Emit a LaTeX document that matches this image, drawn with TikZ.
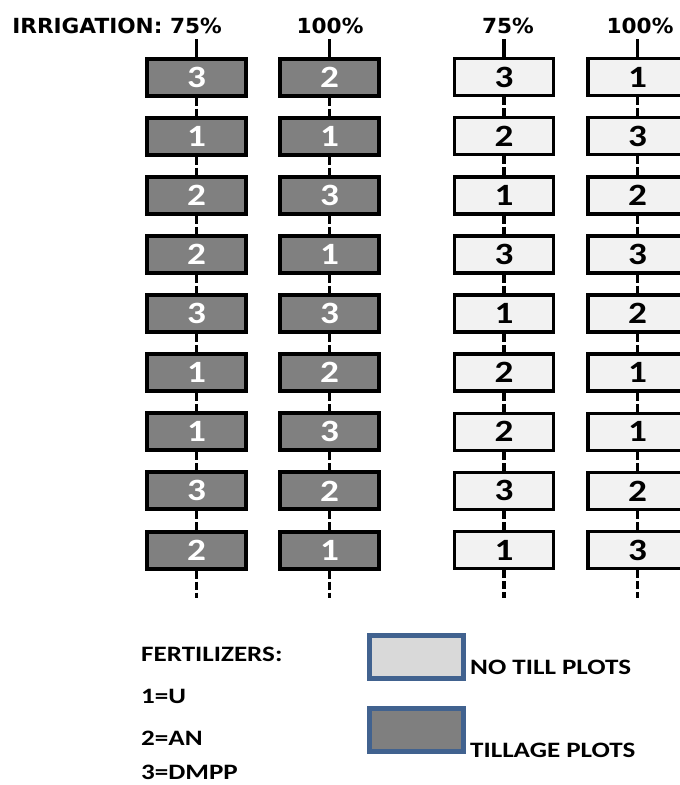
\documentclass[tikz,border=0pt]{standalone}
\usepackage{fontspec}
\setmainfont{Carlito}
\newfontfamily\plotfont[FakeStretch=1.2]{Carlito}
\newfontfamily\legfont[FakeStretch=1.23]{Carlito}
\newfontfamily\headfont[FakeStretch=1.04]{DejaVu Sans}
\definecolor{tillgray}{HTML}{808080}
\definecolor{notillfill}{HTML}{F2F2F2}
\definecolor{legblue}{HTML}{41628F}
\definecolor{leglight}{HTML}{D9D9D9}
\definecolor{legdark}{HTML}{7F7F7F}
\tikzset{
  plotbox/.style={draw=black, minimum width=99pt, minimum height=37pt, inner sep=0pt,
    font=\plotfont\bfseries\fontsize{31}{31}\selectfont},
  tillbox/.style={plotbox, fill=tillgray, line width=4pt, text=white},
  notillbox/.style={plotbox, fill=notillfill, line width=3.5pt, text=black},
  conn/.style={line width=3.5pt, dash pattern=on 8pt off 3pt},
  topconn/.style={line width=3.5pt},
  headtxt/.style={inner sep=0pt, font=\headfont\bfseries\fontsize{20.8}{24}\selectfont},
  legtxt/.style={inner sep=0pt, anchor=base west, font=\legfont\bfseries\fontsize{22}{26}\selectfont},
  legbox/.style={draw=legblue, line width=5pt, minimum width=94pt, minimum height=43pt, inner sep=0pt}
}
\begin{document}
\begin{tikzpicture}[x=1pt,y=-1pt]
\useasboundingbox (0,0) rectangle (680,785);
\clip (0,0) rectangle (680,785);
% headers
\node[headtxt, anchor=base east] (h1t) at (222,33) {IRRIGATION: 75\%};
\node[headtxt, anchor=base] (h2t) at (330,33) {100\%};
\node[headtxt, anchor=base] (h3t) at (508,33) {75\%};
\node[headtxt, anchor=base] (h4t) at (640,33) {100\%};
% columns
\foreach \c/\x/\st/\vals in {1/196.5/tillbox/{3,1,2,2,3,1,1,3,2},
                              2/329.5/tillbox/{2,1,3,1,3,2,3,2,1},
                              3/504/notillbox/{3,2,1,3,1,2,2,3,1},
                              4/637.5/notillbox/{1,3,2,3,2,1,1,2,3}}{
  \coordinate (top\c) at (\x,39);
  \coordinate (bot\c) at (\x,598);
  \foreach \v [count=\r] in \vals {
    \node[\st] (b\c-\r) at (\x,{77+59.125*(\r-1)}) {\v};
  }
  \draw[topconn] (top\c) -- (b\c-1.north);
  \foreach \r [evaluate=\r as \n using int(\r+1)] in {1,...,8} {
    \draw[conn] (b\c-\r.south) -- (b\c-\n.north);
  }
  \draw[conn] (b\c-9.south) -- (bot\c);
}
% legend
\node[legtxt] (fert) at (141,661) {FERTILIZERS:};
\node[legtxt] (f1) at (141,703) {1=U};
\node[legtxt] (f2) at (141,745) {2=AN};
\node[legtxt] (f3) at (141,779.5) {3=DMPP};
\node[legbox, fill=leglight] (lb1) at (416.5,657) {};
\node[legbox, fill=legdark] (lb2) at (416.5,730) {};
\node[legtxt] (lt1) at (470,674) {NO TILL PLOTS};
\node[legtxt] (lt2) at (470,757) {TILLAGE PLOTS};
\end{tikzpicture}
\end{document}
